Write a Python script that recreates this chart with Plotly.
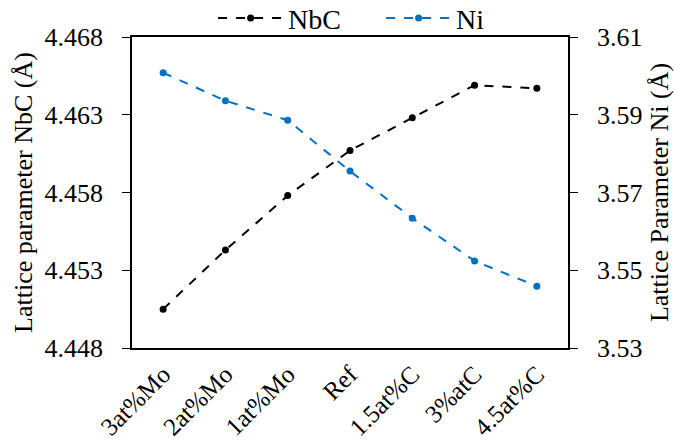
import plotly.graph_objects as go

categories = ["3at%Mo", "2at%Mo", "1at%Mo", "Ref", "1.5at%C", "3%atC", "4.5at%C"]
nbc_values = [4.4505, 4.4543, 4.4578, 4.4607, 4.4628, 4.4649, 4.4647]
ni_values = [3.6008, 3.5936, 3.5886, 3.5755, 3.5634, 3.5524, 3.5459]
left_ticks = [4.448, 4.453, 4.458, 4.463, 4.468]
right_ticks = [3.53, 3.55, 3.57, 3.59, 3.61]

FONT = "Liberation Serif"
fig = go.Figure()
fig.add_trace(go.Scatter(
    x=categories, y=nbc_values, name="NbC", mode="lines+markers",
    line=dict(color="black", dash="dash", width=2),
    marker=dict(color="black", size=7), yaxis="y"))
fig.add_trace(go.Scatter(
    x=categories, y=ni_values, name="Ni", mode="lines+markers",
    line=dict(color="#0070C0", dash="dash", width=2),
    marker=dict(color="#0070C0", size=7), yaxis="y2"))

fig.update_layout(
    width=675, height=446,
    margin=dict(l=132, r=107, t=37, b=98, autoexpand=False),
    paper_bgcolor="white", plot_bgcolor="white",
    font=dict(family=FONT, size=26, color="black"),
    showlegend=True,
    legend=dict(orientation="h", x=0.186, xanchor="left", y=1.06, yanchor="middle",
                font=dict(family=FONT, size=28), itemwidth=65, entrywidth=88,
                bgcolor="rgba(0,0,0,0)", borderwidth=0),
    xaxis=dict(
        type="category", range=[-0.5, 6.5], tickangle=-45, automargin=False,
        showline=True, linecolor="black", linewidth=1.5, mirror=True,
        showgrid=False, ticks="", tickfont=dict(family=FONT, size=25)),
    yaxis=dict(
        range=[4.448, 4.468], tickvals=left_ticks, tickformat=".3f", automargin=False,
        showline=True, linecolor="black", linewidth=1.5,
        showgrid=False, zeroline=False, ticks="outside", ticklen=8, tickcolor="black",
        ticklabelstandoff=14, tickfont=dict(family=FONT, size=26),
        title=dict(text="Lattice parameter NbC (Å)", font=dict(family=FONT, size=26), standoff=4)),
    yaxis2=dict(
        range=[3.53, 3.61], tickvals=right_ticks, tickformat=".2f", automargin=False,
        overlaying="y", side="right",
        showline=True, linecolor="black", linewidth=1.5,
        showgrid=False, zeroline=False, ticks="outside", ticklen=8, tickcolor="black",
        ticklabelstandoff=14, tickfont=dict(family=FONT, size=26),
        title=dict(text="Lattice Parameter Ni (Å)", font=dict(family=FONT, size=26), standoff=8)),
)

fig.write_html("out.html", config={"displayModeBar": False},
               post_script="document.body.style.margin='0';")
